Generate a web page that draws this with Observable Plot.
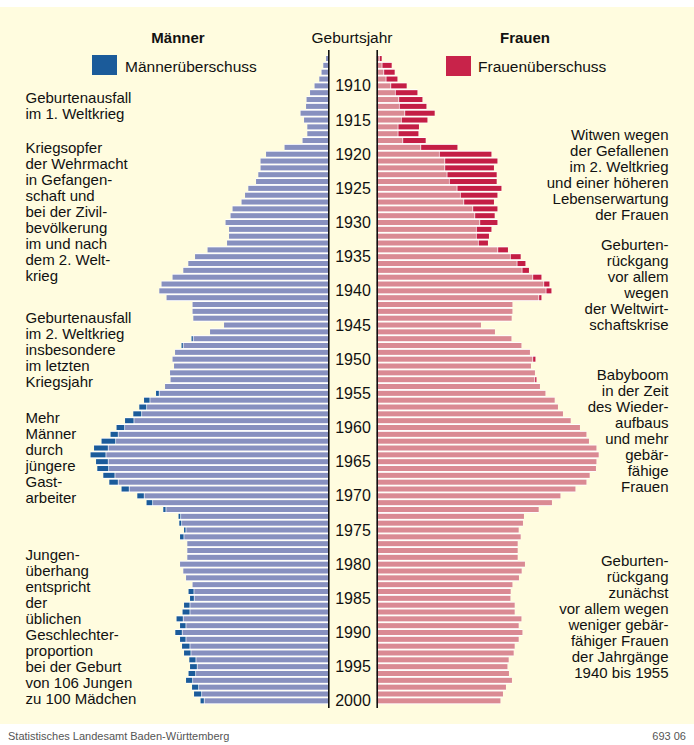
<!DOCTYPE html>
<html>
<head>
<meta charset="utf-8">
<script src="https://cdn.jsdelivr.net/npm/d3@7"></script>
<script src="https://cdn.jsdelivr.net/npm/@observablehq/plot@0.6"></script>
<style>
  html, body { margin: 0; padding: 0; background: #ffffff; }
  #wrap { position: relative; width: 694px; height: 745px; overflow: hidden;
          font-family: "Liberation Sans", Arial, Helvetica, sans-serif; color: #111; }
  #cream { position: absolute; left: 0; top: 7px; width: 694px; height: 717px; background: #FFFCDF; }
  #chart { position: absolute; left: 0; top: 0; }
  .t { position: absolute; white-space: nowrap; line-height: 1; }
  .c { transform: translateX(-50%); }
  .sw { position: absolute; width: 25px; height: 20px; }
</style>
</head>
<body>
<div id="wrap">
  <div id="cream"></div>
  <div id="chart"></div>
  <div class="t c" style="left:178px; top:30px; font-size:15px; font-weight:bold;">Männer</div>
  <div class="t c" style="left:352px; top:30px; font-size:15.5px;">Geburtsjahr</div>
  <div class="t c" style="left:525px; top:30px; font-size:15px; font-weight:bold;">Frauen</div>
  <div class="sw" style="left:92px; top:55px; background:#1B5B9A;"></div>
  <div class="t" style="left:125px; top:59px; font-size:15.5px;">Männerüberschuss</div>
  <div class="sw" style="left:446px; top:56px; background:#C8234A;"></div>
  <div class="t" style="left:478px; top:59px; font-size:15.5px;">Frauenüberschuss</div>
  <div class="t" style="left:8px; top:731px; font-size:11px; color:#555;">Statistisches Landesamt Baden-Württemberg</div>
  <div class="t" style="right:8px; top:731px; font-size:11px; color:#555;">693 06</div>
</div>
<script>
// Birth years (one bar per year)
const years = d3.range(1906, 2001);

// Population by birth year, thousands
const male = [
  0.9, 2.0, 2.7, 3.6,
  5.5, 7.3, 8.7, 8.9, 11.1, 9.7, 8.4, 8.4, 10.3, 17.5,
  24.9, 27.1, 27.1, 28.0, 28.9, 32.0, 33.3, 34.7, 38.3, 39.1,
  41.1, 39.7, 39.7, 40.5, 48.3, 53.3, 56.0, 58.0, 62.3, 66.7,
  67.6, 64.7, 54.3, 54.3, 54.0, 41.7, 47.3, 54.7, 58.7, 61.3,
  62.3, 61.7, 63.3, 63.1, 65.3, 68.9, 73.7, 75.6, 78.0, 81.3,
  84.7, 87.1, 90.7, 93.7, 95.1, 92.9, 92.4, 90.0, 87.6, 82.7,
  76.4, 72.7, 66.0, 59.9, 59.6, 57.7, 59.3, 56.4, 56.4, 56.4,
  59.3, 58.0, 56.9, 54.3, 55.9, 55.3, 57.7, 58.3, 60.7, 59.3,
  61.2, 59.3, 58.5, 57.7, 55.6, 55.3, 55.9, 56.9, 54.5, 53.7,
  51.1
];
const female = [
  2.0, 6.0, 7.2, 8.3,
  12.0, 16.3, 18.3, 19.9, 23.2, 20.3, 16.9, 16.7, 19.6, 32.3,
  45.9, 48.3, 46.9, 48.0, 48.0, 49.9, 48.3, 46.9, 48.3, 47.2,
  48.3, 45.9, 44.9, 44.5, 52.5, 57.6, 59.5, 60.9, 65.9, 69.1,
  69.9, 65.9, 54.3, 54.3, 54.0, 41.7, 47.3, 53.9, 57.9, 61.3,
  63.5, 61.7, 63.3, 63.9, 65.3, 67.5, 71.2, 72.5, 74.5, 77.6,
  81.3, 83.9, 84.9, 87.9, 88.8, 87.9, 87.7, 85.2, 83.9, 79.5,
  73.5, 70.1, 64.8, 58.9, 58.5, 56.8, 57.6, 56.4, 56.4, 56.4,
  59.3, 58.0, 56.9, 54.3, 53.6, 53.5, 55.2, 55.2, 57.9, 56.8,
  58.3, 56.8, 55.2, 54.8, 52.8, 52.3, 52.9, 54.1, 51.7, 50.5,
  49.5
];

// Year tick labels in the centre column
const yearTicks = [1910, 1915, 1920, 1925, 1930, 1935, 1940, 1945, 1950, 1955,
                   1960, 1965, 1970, 1975, 1980, 1985, 1990, 1995, 2000];

// Annotations
const leftNoteTexts = [
  "Geburtenausfall\nim 1. Weltkrieg",
  "Kriegsopfer\nder Wehrmacht\nin Gefangen-\nschaft und\nbei der Zivil-\nbevölkerung\nim und nach\ndem 2. Welt-\nkrieg",
  "Geburtenausfall\nim 2. Weltkrieg\ninsbesondere\nim letzten\nKriegsjahr",
  "Mehr\nMänner\ndurch\njüngere\nGast-\narbeiter",
  "Jungen-\nüberhang\nentspricht\nder\nüblichen\nGeschlechter-\nproportion\nbei der Geburt\nvon 106 Jungen\nzu 100 Mädchen"
];
const leftNoteYears = [1912.8, 1928.3, 1948.6, 1964.3, 1989.05];
const rightNoteTexts = [
  "Witwen wegen\nder Gefallenen\nim 2. Weltkrieg\nund einer höheren\nLebenserwartung\nder Frauen",
  "Geburten-\nrückgang\nvor allem\nwegen\nder Weltwirt-\nschaftskrise",
  "Babyboom\nin der Zeit\ndes Wieder-\naufbaus\nund mehr\ngebär-\nfähige\nFrauen",
  "Geburten-\nrückgang\nzunächst\nvor allem wegen\nweniger gebär-\nfähiger Frauen\nder Jahrgänge\n1940 bis 1955"
];
const rightNoteYears = [1922.9, 1939.0, 1960.35, 1987.7];

// Colours
const maleLight = "#8790BF", maleDark = "#1B5B9A";
const femaleLight = "#DA8A93", femaleDark = "#C41E45";

// Half-width of the centre column, in data units
const G = 9.68;

const rows = years.map((year, i) => ({
  year, m: male[i], f: female[i], lo: Math.min(male[i], female[i])
}));
const leftNotes = leftNoteTexts.map((text, i) => ({text, year: leftNoteYears[i]}));
const rightNotes = rightNoteTexts.map((text, i) => ({text, year: rightNoteYears[i]}));

const y1 = d => d.year - 0.5, y2 = d => d.year + 0.5;

const chart = Plot.plot({
  width: 694,
  height: 745,
  marginTop: 50,
  marginBottom: 37,
  marginLeft: 0,
  marginRight: 0,
  x: {domain: [-141, 136.6], axis: null},
  y: {domain: [1904.75, 2001.05], reverse: true, axis: null},
  style: {background: "transparent", fontFamily: "'Liberation Sans', Arial, Helvetica, sans-serif", color: "#111"},
  marks: [
    // white backing (gives the light separators between bars)
    Plot.rectX(rows, {y1, y2, x1: -G, x2: d => -G - d.m, fill: "#ffffff"}),
    Plot.rectX(rows, {y1, y2, x1: G, x2: d => G + d.f, fill: "#ffffff"}),
    // common part
    Plot.rectX(rows, {y1, y2, x1: -G, x2: d => -G - d.lo, fill: maleLight, insetTop: 0.9, insetBottom: 0.9}),
    Plot.rectX(rows, {y1, y2, x1: G, x2: d => G + d.lo, fill: femaleLight, insetTop: 0.9, insetBottom: 0.9}),
    // surplus
    Plot.rectX(rows.filter(d => d.m > d.lo), {y1, y2, x1: d => -G - d.lo, x2: d => -G - d.m, fill: maleDark, insetTop: 0.9, insetBottom: 0.9, insetRight: 0.7}),
    Plot.rectX(rows.filter(d => d.f > d.lo), {y1, y2, x1: d => G + d.lo, x2: d => G + d.f, fill: femaleDark, insetTop: 0.9, insetBottom: 0.9, insetLeft: 0.7}),
    // centre column lines
    Plot.ruleX([-G, G], {stroke: "#111", strokeWidth: 1.6}),
    // year labels
    Plot.text(yearTicks, {x: 0, y: d => d, text: d => String(d), fontSize: 16, fill: "#111"}),
    // annotations
    Plot.text(leftNotes, {y: "year", text: "text", frameAnchor: "left", textAnchor: "start", dx: 25,
      fontSize: 15, lineHeight: 1.0667, fill: "#111"}),
    Plot.text(rightNotes, {y: "year", text: "text", frameAnchor: "right", textAnchor: "end", dx: -26,
      fontSize: 15, lineHeight: 1.0667, fill: "#111"})
  ]
});
document.getElementById("chart").appendChild(chart);
</script>
</body>
</html>
